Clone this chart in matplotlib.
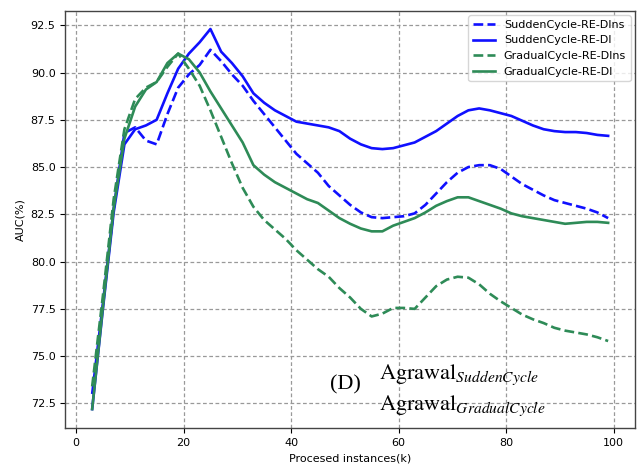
import matplotlib
matplotlib.use("Agg")
import matplotlib.pyplot as plt

x = [3, 5, 7, 9, 11, 13, 15, 17, 19, 21, 23, 25, 27, 29, 31, 33, 35, 37, 39, 41,
     43, 45, 47, 49, 51, 53, 55, 57, 59, 61, 63, 65, 67, 69, 71, 73, 75, 77, 79,
     81, 83, 85, 87, 89, 91, 93, 95, 97, 99]

sudden_dins = [73.0, 77.8, 82.8, 86.8, 87.1, 86.4, 86.2, 87.8, 89.2, 89.9, 90.4, 91.2,
               90.6, 89.9, 89.3, 88.5, 87.8, 87.1, 86.4, 85.7, 85.2, 84.7, 84.0, 83.5,
               83.0, 82.6, 82.35, 82.3, 82.35, 82.4, 82.55, 83.0, 83.6, 84.2, 84.7, 85.0,
               85.1, 85.1, 84.9, 84.5, 84.1, 83.8, 83.5, 83.25, 83.1, 82.95, 82.8, 82.6, 82.3]

sudden_di = [72.2, 77.5, 82.6, 86.2, 87.0, 87.2, 87.5, 88.9, 90.2, 91.0, 91.6, 92.3,
             91.1, 90.5, 89.8, 88.9, 88.4, 88.0, 87.7, 87.4, 87.3, 87.2, 87.1, 86.9,
             86.5, 86.2, 86.0, 85.95, 86.0, 86.15, 86.3, 86.6, 86.9, 87.3, 87.7, 88.0,
             88.1, 88.0, 87.85, 87.7, 87.45, 87.2, 87.0, 86.9, 86.85, 86.85, 86.8, 86.7, 86.65]

gradual_dins = [73.4, 78.2, 83.3, 87.0, 88.6, 89.2, 89.5, 90.3, 91.0, 90.2, 89.3, 88.0,
                86.6, 85.2, 83.9, 82.9, 82.2, 81.7, 81.2, 80.6, 80.1, 79.6, 79.2, 78.6,
                78.1, 77.5, 77.1, 77.25, 77.55, 77.55, 77.5, 78.1, 78.7, 79.05, 79.2, 79.15,
                78.8, 78.3, 77.9, 77.55, 77.2, 76.95, 76.75, 76.5, 76.35, 76.25, 76.15, 76.0, 75.8]

gradual_di = [72.2, 77.6, 82.8, 86.5, 88.2, 89.1, 89.5, 90.5, 91.0, 90.7, 90.0, 89.0,
              88.1, 87.2, 86.3, 85.1, 84.6, 84.2, 83.9, 83.6, 83.3, 83.1, 82.7, 82.3,
              82.0, 81.75, 81.6, 81.6, 81.9, 82.1, 82.3, 82.6, 82.95, 83.2, 83.4, 83.4,
              83.2, 83.0, 82.8, 82.55, 82.4, 82.3, 82.2, 82.1, 82.0, 82.05, 82.1, 82.1, 82.05]

labels = ["SuddenCycle-RE-DIns", "SuddenCycle-RE-DI",
          "GradualCycle-RE-DIns", "GradualCycle-RE-DI"]

plt.rcParams["font.family"] = ["DejaVu Sans"]
plt.rcParams["font.size"] = 8
plt.rcParams["mathtext.fontset"] = "stix"

fig = plt.figure(figsize=(6.42, 4.66), dpi=100)
ax = fig.add_axes([0.1017, 0.0815, 0.8874, 0.8948])

blue = "#1010ff"
green = "#2e8b57"
ax.plot(x, sudden_dins, "--", color=blue, lw=1.9, label=labels[0])
ax.plot(x, sudden_di, "-", color=blue, lw=1.9, label=labels[1])
ax.plot(x, gradual_dins, "--", color=green, lw=1.9, label=labels[2])
ax.plot(x, gradual_di, "-", color=green, lw=1.9, label=labels[3])

ax.set_xlim(-2, 104)
ax.set_ylim(71.2, 93.25)
ax.set_xticks([0, 20, 40, 60, 80, 100])
ax.set_yticks([72.5, 75.0, 77.5, 80.0, 82.5, 85.0, 87.5, 90.0, 92.5])
ax.yaxis.set_major_formatter(matplotlib.ticker.FormatStrFormatter("%.1f"))
ax.grid(True, linestyle=(0, (3, 2)), color="#999999", lw=0.9)
for s in ax.spines.values():
    s.set_color("#444444")
    s.set_linewidth(1.0)

ax.set_xlabel("Procesed instances(k)")
ax.set_ylabel("AUC(%)")

ax.legend(loc="upper right", fontsize=8, borderaxespad=0.4)

ax.text(47.2, 73.5, "(D)", family="Liberation Serif", fontsize=16, va="center", ha="left")
ax.text(56.4, 74.0, r"$\mathrm{Agrawal}_{\mathit{SuddenCycle}}$", fontsize=16, va="center", ha="left")
ax.text(56.4, 72.4, r"$\mathrm{Agrawal}_{\mathit{GradualCycle}}$", fontsize=16, va="center", ha="left")

fig.savefig("out.png", dpi=100)
